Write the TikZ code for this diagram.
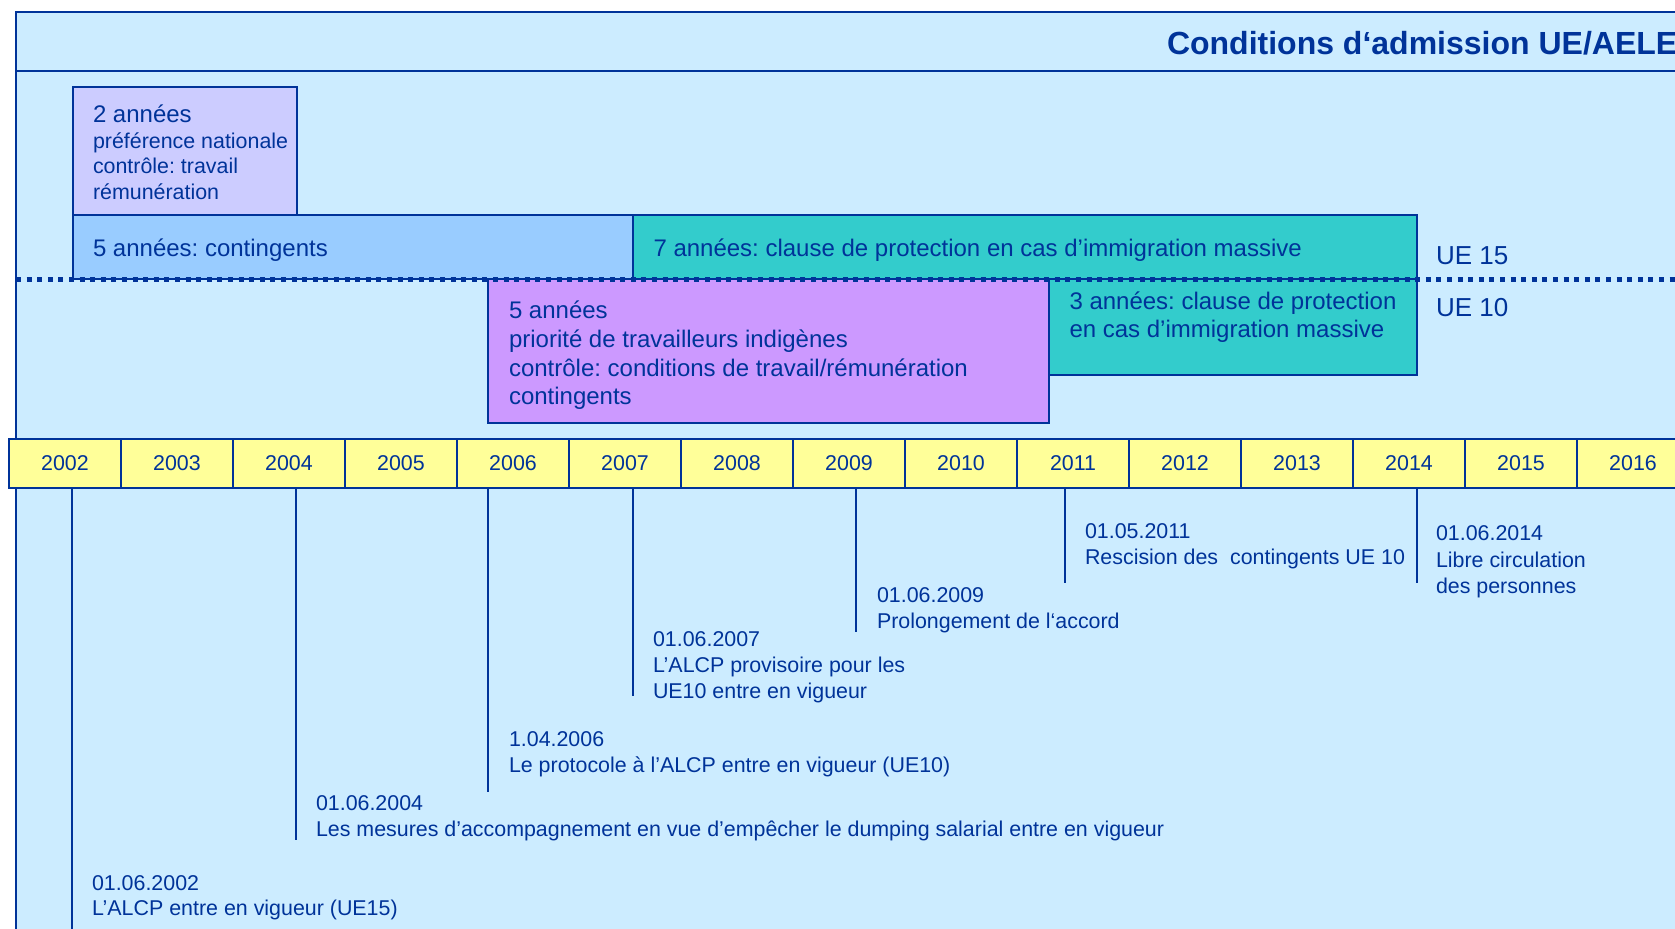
\documentclass[tikz,border=0pt]{standalone}
\usepackage{fontspec}
\setmainfont{Liberation Sans}
\frenchspacing
\definecolor{bgc}{HTML}{CCECFF}
\definecolor{navy}{HTML}{003399}
\definecolor{lilac}{HTML}{CCCCFF}
\definecolor{skyc}{HTML}{99CCFF}
\definecolor{tealc}{HTML}{33CCCC}
\definecolor{purplec}{HTML}{CC99FF}
\definecolor{yellowc}{HTML}{FFFF99}
\begin{document}
\begin{tikzpicture}[x=0.5pt,y=-0.5pt,line width=1pt,
  boxc/.style={draw=navy,line width=1pt},
  bigtxt/.style={anchor=base west,inner sep=0pt,text=navy,font=\fontsize{12}{14.4}\selectfont},
  smalltxt/.style={anchor=base west,inner sep=0pt,text=navy,font=\fontsize{10.7}{12.8}\selectfont},
  uetxt/.style={anchor=base west,inner sep=0pt,text=navy,font=\fontsize{13}{15.6}\selectfont},
  yearcell/.style={draw=navy,fill=yellowc,text=navy,minimum width=56pt,minimum height=24.2pt,inner sep=0pt,font=\fontsize{10.7}{12.8}\selectfont},
  vline/.style={draw=navy,line width=1pt}]
\clip (0,0) rectangle (1675,928);
\fill[white] (0,0) rectangle (1675,928);
% outer frame
\filldraw[fill=bgc,draw=navy] (16,12) rectangle (1730,960);
\draw[navy] (16,71) -- (1730,71);
\node[anchor=base west,inner sep=0pt,text=navy,font=\fontsize{16}{19}\selectfont\bfseries] (title) at (1166,54.5) {Conditions d‘admission UE/AELE};
% bars
\filldraw[boxc,fill=lilac] (72.7,87.3) rectangle (297,215);
\filldraw[boxc,fill=skyc] (72.7,215) rectangle (633,279.3);
\filldraw[boxc,fill=tealc] (633,215) rectangle (1417,279.3);
\filldraw[boxc,fill=purplec] (488,279.3) rectangle (1049,423);
\filldraw[boxc,fill=tealc] (1049,279.3) rectangle (1417,375.3);
\draw[navy,line width=2.3pt,dash pattern=on 2.5pt off 2.8pt] (16,279.3) -- (1730,279.3);
% bar texts
\node[bigtxt] (a1) at (92,122.5) {2 années};
\node[smalltxt] (a2) at (92,148) {préférence nationale};
\node[smalltxt] (a3) at (92,173.7) {contrôle: travail};
\node[smalltxt] (a4) at (92,199.4) {rémunération};
\node[bigtxt] (c1) at (92,256.5) {5 années: contingents};
\node[bigtxt] (s1) at (652.5,256.5) {7 années: clause de protection en cas d’immigration massive};
\node[uetxt] (ue15) at (1435,264.3) {UE 15};
\node[uetxt] (ue10) at (1435,316) {UE 10};
\node[bigtxt] (t1) at (1068.5,309) {3 années: clause de protection};
\node[bigtxt] (t2) at (1068.5,337.8) {en cas d’immigration massive};
\node[bigtxt] (p1) at (508,318.5) {5 années};
\node[bigtxt] (p2) at (508,347.3) {priorité de travailleurs indigènes};
\node[bigtxt] (p3) at (508,376.1) {contrôle: conditions de travail/rémunération};
\node[bigtxt] (p4) at (508,404.9) {contingents};
% timeline
\foreach \yr [count=\i from 0] in {2002,2003,2004,2005,2006,2007,2008,2009,2010,2011,2012,2013,2014,2015,2016}
  \node[yearcell] (y\yr) at ({9+112*\i+56},463.5) {\yr};
% event lines
\coordinate (e2002) at (72.4,940);
\coordinate (e2004) at (296.4,840);
\coordinate (e2006) at (488,792);
\coordinate (e2007) at (633,696);
\coordinate (e2009) at (856.4,631.7);
\coordinate (e2011) at (1064.5,583.3);
\coordinate (e2014) at (1416.6,583.3);
\foreach \yr in {2002,2004,2006,2007,2009,2011,2014}
  \draw[vline] (y\yr.south -| e\yr) -- (e\yr);
% event texts
\node[smalltxt] (d02a) at (91,890.2) {01.06.2002};
\node[smalltxt] (d02b) at (91,915.8) {L’ALCP entre en vigueur (UE15)};
\node[smalltxt] (d04a) at (315,810.8) {01.06.2004};
\node[smalltxt] (d04b) at (315,836.8) {Les mesures d’accompagnement en vue d’empêcher le dumping salarial entre en vigueur};
\node[smalltxt] (d06a) at (508,746.8) {1.04.2006};
\node[smalltxt] (d06b) at (508,772.5) {Le protocole à l’ALCP entre en vigueur (UE10)};
\node[smalltxt] (d07a) at (652,646.8) {01.06.2007};
\node[smalltxt] (d07b) at (652,672.5) {L’ALCP provisoire pour les};
\node[smalltxt] (d07c) at (652,698.2) {UE10 entre en vigueur};
\node[smalltxt] (d09a) at (876,602.5) {01.06.2009};
\node[smalltxt] (d09b) at (876,628.2) {Prolongement de l‘accord};
\node[smalltxt] (d11a) at (1084,538.5) {01.05.2011};
\node[smalltxt] (d11b) at (1084,564.8) {Rescision des\ \ contingents UE 10};
\node[smalltxt] (d14a) at (1435,540.8) {01.06.2014};
\node[smalltxt] (d14b) at (1435,567.5) {Libre circulation};
\node[smalltxt] (d14c) at (1435,593.5) {des personnes};
\end{tikzpicture}
\end{document}
